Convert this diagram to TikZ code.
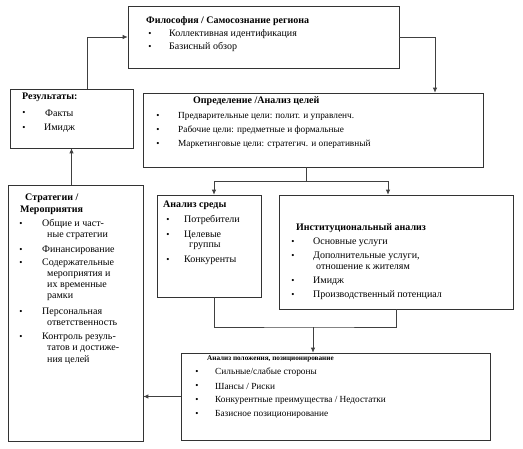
\documentclass[tikz,border=0pt]{standalone}
\usepackage{fontspec}
\setmainfont{Liberation Serif}
\usetikzlibrary{arrows.meta, positioning, shadows}

\tikzset{
  box/.style={draw=black!80, line width=0.6pt, fill=white, inner sep=0pt,
    drop shadow={shadow xshift=1.2pt, shadow yshift=-1.2pt, fill=black!55, opacity=1}},
  conn/.style={draw=black!75, line width=0.8pt},
  arr/.style={conn, -{Latex[length=5pt, width=4.5pt]}},
  hd/.style={anchor=west, inner sep=0pt, font=\fontsize{10}{11}\selectfont\bfseries},
  itm/.style={anchor=west, inner sep=0pt, font=\fontsize{10}{11}\selectfont},
  small/.style={font=\fontsize{9.3}{10}\selectfont},
  bul/.style={anchor=center, inner sep=0pt, font=\fontsize{9}{10}\selectfont}
}

\begin{document}
\begin{tikzpicture}[x=1pt, y=-1pt]
  \useasboundingbox (0,0) rectangle (523,448);

  % Kaesten
  \node[box, minimum width=271pt, minimum height=62pt] (phil) at (263.5,37) {};
  \node[box, minimum width=123pt, minimum height=59pt] (res) at (71.5,118.5) {};
  \node[box, minimum width=340pt, minimum height=74pt] (defn) at (313,130) {};
  \node[box, minimum width=135pt, minimum height=256pt] (strat) at (75.5,313) {};
  \node[box, minimum width=104pt, minimum height=102pt] (env) at (209,246) {};
  \node[box, minimum width=234pt, minimum height=114pt] (inst) at (396,252) {};
  \node[box, minimum width=309pt, minimum height=87pt] (pos) at (335.5,396.5) {};

  % Philosophie
  \node[hd] (philT) at (146,21) {Философия / Самосознание региона};
  \node[bul] (philB1) at (150,34) {•};
  \node[itm] (philI1) at (169,34) {Коллективная идентификация};
  \node[bul] (philB2) at (150,47) {•};
  \node[itm] (philI2) at (169,47) {Базисный обзор};

  % Ergebnisse
  \node[hd] (resT) at (22,97) {Результаты:};
  \node[bul] (resB1) at (24,113) {•};
  \node[itm] (resI1) at (45,113) {Факты};
  \node[bul] (resB2) at (24,128) {•};
  \node[itm] (resI2) at (44,128) {Имидж};

  % Ziele
  \node[hd] (defnT) at (193,101) {Определение /Анализ целей};
  \node[bul] (defnB1) at (158,116) {•};
  \node[itm, small] (defnI1) at (178,116) {Предварительные цели: полит. и управленч.};
  \node[bul] (defnB2) at (158,130) {•};
  \node[itm, small] (defnI2) at (178,130) {Рабочие цели: предметные и формальные};
  \node[bul] (defnB3) at (158,144) {•};
  \node[itm, small] (defnI3) at (178,144) {Маркетинговые цели: стратегич. и оперативный};

  % Strategien
  \node[hd] (stratT1) at (25,198) {Стратегии /};
  \node[hd] (stratT2) at (20,210) {Мероприятия};
  \node[bul] (stratB1) at (21,224) {•};
  \node[itm] (stratI1) at (42,224) {Общие и част-};
  \node[itm] (stratI1b) at (47,236) {ные стратегии};
  \node[bul] (stratB2) at (21,250) {•};
  \node[itm] (stratI2) at (42,250) {Финансирование};
  \node[bul] (stratB3) at (21,263) {•};
  \node[itm] (stratI3) at (42,263) {Содержательные};
  \node[itm] (stratI3b) at (47,275) {мероприятия и};
  \node[itm] (stratI3c) at (47,286) {их временные};
  \node[itm] (stratI3d) at (47,297) {рамки};
  \node[bul] (stratB4) at (21,312) {•};
  \node[itm] (stratI4) at (42,312) {Персональная};
  \node[itm] (stratI4b) at (47,323) {ответственность};
  \node[bul] (stratB5) at (21,337) {•};
  \node[itm] (stratI5) at (42,337) {Контроль резуль-};
  \node[itm] (stratI5b) at (47,349) {татов и достиже-};
  \node[itm] (stratI5c) at (47,360) {ния целей};

  % Umfeld
  \node[hd] (envT) at (163,205) {Анализ среды};
  \node[bul] (envB1) at (168,220) {•};
  \node[itm] (envI1) at (184,220) {Потребители};
  \node[bul] (envB2) at (168,235) {•};
  \node[itm] (envI2) at (184,235) {Целевые};
  \node[itm] (envI2b) at (189,246) {группы};
  \node[bul] (envB3) at (168,260) {•};
  \node[itm] (envI3) at (184,260) {Конкуренты};

  % Institution
  \node[hd] (instT) at (296,228) {Институциональный анализ};
  \node[bul] (instB1) at (293,242) {•};
  \node[itm] (instI1) at (313,242) {Основные услуги};
  \node[bul] (instB2) at (293,256) {•};
  \node[itm] (instI2) at (313,256) {Дополнительные услуги,};
  \node[itm] (instI2b) at (316,267) {отношение к жителям};
  \node[bul] (instB3) at (293,281) {•};
  \node[itm] (instI3) at (313,281) {Имидж};
  \node[bul] (instB4) at (293,295) {•};
  \node[itm] (instI4) at (313,295) {Производственный потенциал};

  % Positionierung
  \node[hd, font=\fontsize{7.2}{8}\selectfont\bfseries] (posT) at (207,359) {Анализ положения, позиционирование};
  \node[bul] (posB1) at (197,372) {•};
  \node[itm, small] (posI1) at (215,372) {Сильные/слабые стороны};
  \node[bul] (posB2) at (197,386) {•};
  \node[itm, small] (posI2) at (215,386) {Шансы / Риски};
  \node[bul] (posB3) at (197,400) {•};
  \node[itm, small] (posI3) at (215,400) {Конкурентные преимущества / Недостатки};
  \node[bul] (posB4) at (197,414) {•};
  \node[itm, small] (posI4) at (215,414) {Базисное позиционирование};

  % Verbindungen
  \coordinate (j1) at (306,181);
  \coordinate (j2) at (313,327);
  \draw[arr] ([xshift=15.5pt]res.north) |- (phil.west);
  \draw[arr] (phil.east) -| ([xshift=122pt]defn.north);
  \draw[conn] (defn.south -| j1) -- (j1);
  \draw[arr] (j1) -| ([xshift=5pt]env.north);
  \draw[arr] (j1) -| ([xshift=-8pt]inst.north);
  \draw[conn] ([xshift=5pt]env.south) |- (j2) -| (inst.south);
  \draw[arr] (j2) -- (pos.north -| j2);
  \draw[arr] (pos.west) -- (strat.east |- pos.west);
  \draw[arr] (res.south |- strat.north) -- (res.south);
\end{tikzpicture}
\end{document}
